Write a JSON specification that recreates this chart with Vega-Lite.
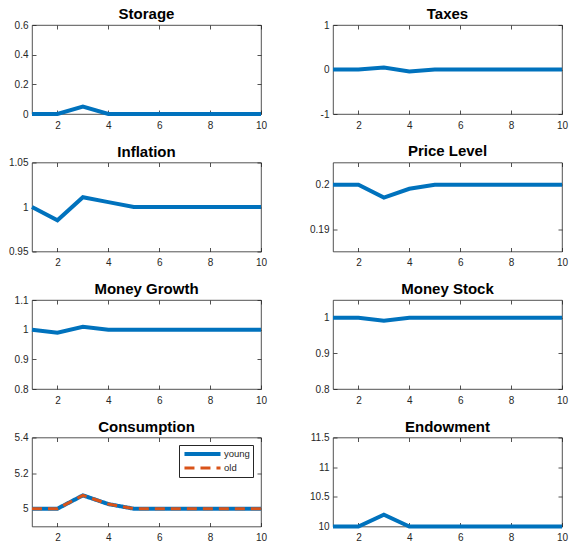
{
  "$schema": "https://vega.github.io/schema/vega-lite/v6.json",
  "padding": {"left": 8, "top": 6, "right": 0, "bottom": 0},
  "background": "white",
  "columns": 2,
  "spacing": {"row": 12.5, "column": 39},
  "datasets": {
    "storage": [{"t":1,"value":0},{"t":2,"value":0},{"t":3,"value":0.05},{"t":4,"value":0},{"t":5,"value":0},{"t":6,"value":0},{"t":7,"value":0},{"t":8,"value":0},{"t":9,"value":0},{"t":10,"value":0}],
    "taxes": [{"t":1,"value":0},{"t":2,"value":0},{"t":3,"value":0.045},{"t":4,"value":-0.045},{"t":5,"value":0},{"t":6,"value":0},{"t":7,"value":0},{"t":8,"value":0},{"t":9,"value":0},{"t":10,"value":0}],
    "inflation": [{"t":1,"value":1},{"t":2,"value":0.985},{"t":3,"value":1.011},{"t":4,"value":1.0055},{"t":5,"value":1},{"t":6,"value":1},{"t":7,"value":1},{"t":8,"value":1},{"t":9,"value":1},{"t":10,"value":1}],
    "price": [{"t":1,"value":0.2},{"t":2,"value":0.2},{"t":3,"value":0.1971},{"t":4,"value":0.1991},{"t":5,"value":0.2},{"t":6,"value":0.2},{"t":7,"value":0.2},{"t":8,"value":0.2},{"t":9,"value":0.2},{"t":10,"value":0.2}],
    "mgrowth": [{"t":1,"value":1},{"t":2,"value":0.99},{"t":3,"value":1.01},{"t":4,"value":1},{"t":5,"value":1},{"t":6,"value":1},{"t":7,"value":1},{"t":8,"value":1},{"t":9,"value":1},{"t":10,"value":1}],
    "mstock": [{"t":1,"value":1},{"t":2,"value":1},{"t":3,"value":0.992},{"t":4,"value":1},{"t":5,"value":1},{"t":6,"value":1},{"t":7,"value":1},{"t":8,"value":1},{"t":9,"value":1},{"t":10,"value":1}],
    "consumption": [
      {"t":1,"value":5,"group":"young"},{"t":2,"value":5,"group":"young"},{"t":3,"value":5.075,"group":"young"},{"t":4,"value":5.026,"group":"young"},{"t":5,"value":5,"group":"young"},{"t":6,"value":5,"group":"young"},{"t":7,"value":5,"group":"young"},{"t":8,"value":5,"group":"young"},{"t":9,"value":5,"group":"young"},{"t":10,"value":5,"group":"young"},
      {"t":1,"value":5,"group":"old"},{"t":2,"value":5,"group":"old"},{"t":3,"value":5.075,"group":"old"},{"t":4,"value":5.026,"group":"old"},{"t":5,"value":5,"group":"old"},{"t":6,"value":5,"group":"old"},{"t":7,"value":5,"group":"old"},{"t":8,"value":5,"group":"old"},{"t":9,"value":5,"group":"old"},{"t":10,"value":5,"group":"old"}
    ],
    "endowment": [{"t":1,"value":10},{"t":2,"value":10},{"t":3,"value":10.2},{"t":4,"value":10},{"t":5,"value":10},{"t":6,"value":10},{"t":7,"value":10},{"t":8,"value":10},{"t":9,"value":10},{"t":10,"value":10}]
  },
  "concat": [
    {
      "title": "Storage", "width": 229, "height": 89,
      "data": {"name": "storage"},
      "layer": [
        {"mark": {"type": "line", "color": "#0072BD", "strokeWidth": 4},
         "encoding": {
           "x": {"field": "t", "type": "quantitative", "title": null, "scale": {"domain": [1, 10], "nice": false}, "axis": {"values": [2,4,6,8,10], "labelPadding": 10}},
           "y": {"field": "value", "type": "quantitative", "title": null, "scale": {"domain": [0, 0.6], "nice": false, "zero": false}, "axis": {"values": [0,0.2,0.4,0.6], "labelExpr": "'' + datum.value"}}}},
        {"mark": {"type": "line", "opacity": 0},
         "encoding": {
           "x": {"field": "t", "type": "quantitative", "title": null, "scale": {"domain": [1, 10], "nice": false}, "axis": {"orient": "top", "values": [2,4,6,8,10], "labels": false}},
           "y": {"field": "value", "type": "quantitative", "title": null, "scale": {"domain": [0, 0.6], "nice": false, "zero": false}, "axis": {"orient": "right", "values": [0,0.2,0.4,0.6], "labels": false}}}}
      ],
      "resolve": {"axis": {"x": "independent", "y": "independent"}}
    },
    {
      "title": "Taxes", "width": 229, "height": 89,
      "data": {"name": "taxes"},
      "layer": [
        {"mark": {"type": "line", "color": "#0072BD", "strokeWidth": 4},
         "encoding": {
           "x": {"field": "t", "type": "quantitative", "title": null, "scale": {"domain": [1, 10], "nice": false}, "axis": {"values": [2,4,6,8,10], "labelPadding": 10}},
           "y": {"field": "value", "type": "quantitative", "title": null, "scale": {"domain": [-1, 1], "nice": false, "zero": false}, "axis": {"values": [-1,0,1], "labelExpr": "'' + datum.value"}}}},
        {"mark": {"type": "line", "opacity": 0},
         "encoding": {
           "x": {"field": "t", "type": "quantitative", "title": null, "scale": {"domain": [1, 10], "nice": false}, "axis": {"orient": "top", "values": [2,4,6,8,10], "labels": false}},
           "y": {"field": "value", "type": "quantitative", "title": null, "scale": {"domain": [-1, 1], "nice": false, "zero": false}, "axis": {"orient": "right", "values": [-1,0,1], "labels": false}}}}
      ],
      "resolve": {"axis": {"x": "independent", "y": "independent"}}
    },
    {
      "title": "Inflation", "width": 229, "height": 89,
      "data": {"name": "inflation"},
      "layer": [
        {"mark": {"type": "line", "color": "#0072BD", "strokeWidth": 4},
         "encoding": {
           "x": {"field": "t", "type": "quantitative", "title": null, "scale": {"domain": [1, 10], "nice": false}, "axis": {"values": [2,4,6,8,10], "labelPadding": 10}},
           "y": {"field": "value", "type": "quantitative", "title": null, "scale": {"domain": [0.95, 1.05], "nice": false, "zero": false}, "axis": {"values": [0.95,1,1.05], "labelExpr": "'' + datum.value"}}}},
        {"mark": {"type": "line", "opacity": 0},
         "encoding": {
           "x": {"field": "t", "type": "quantitative", "title": null, "scale": {"domain": [1, 10], "nice": false}, "axis": {"orient": "top", "values": [2,4,6,8,10], "labels": false}},
           "y": {"field": "value", "type": "quantitative", "title": null, "scale": {"domain": [0.95, 1.05], "nice": false, "zero": false}, "axis": {"orient": "right", "values": [0.95,1,1.05], "labels": false}}}}
      ],
      "resolve": {"axis": {"x": "independent", "y": "independent"}}
    },
    {
      "title": {"text": "Price Level", "dy": -5}, "width": 229, "height": 89,
      "data": {"name": "price"},
      "layer": [
        {"mark": {"type": "line", "color": "#0072BD", "strokeWidth": 4},
         "encoding": {
           "x": {"field": "t", "type": "quantitative", "title": null, "scale": {"domain": [1, 10], "nice": false}, "axis": {"values": [2,4,6,8,10], "labelPadding": 10}},
           "y": {"field": "value", "type": "quantitative", "title": null, "scale": {"domain": [0.185, 0.205], "nice": false, "zero": false}, "axis": {"values": [0.19,0.2], "labelExpr": "'' + datum.value"}}}},
        {"mark": {"type": "line", "opacity": 0},
         "encoding": {
           "x": {"field": "t", "type": "quantitative", "title": null, "scale": {"domain": [1, 10], "nice": false}, "axis": {"orient": "top", "values": [2,4,6,8,10], "labels": false}},
           "y": {"field": "value", "type": "quantitative", "title": null, "scale": {"domain": [0.185, 0.205], "nice": false, "zero": false}, "axis": {"orient": "right", "values": [0.19,0.2], "labels": false}}}}
      ],
      "resolve": {"axis": {"x": "independent", "y": "independent"}}
    },
    {
      "title": "Money Growth", "width": 229, "height": 89,
      "data": {"name": "mgrowth"},
      "layer": [
        {"mark": {"type": "line", "color": "#0072BD", "strokeWidth": 4},
         "encoding": {
           "x": {"field": "t", "type": "quantitative", "title": null, "scale": {"domain": [1, 10], "nice": false}, "axis": {"values": [2,4,6,8,10], "labelPadding": 10}},
           "y": {"field": "value", "type": "quantitative", "title": null, "scale": {"domain": [0.8, 1.1], "nice": false, "zero": false}, "axis": {"values": [0.8,0.9,1,1.1], "labelExpr": "'' + datum.value"}}}},
        {"mark": {"type": "line", "opacity": 0},
         "encoding": {
           "x": {"field": "t", "type": "quantitative", "title": null, "scale": {"domain": [1, 10], "nice": false}, "axis": {"orient": "top", "values": [2,4,6,8,10], "labels": false}},
           "y": {"field": "value", "type": "quantitative", "title": null, "scale": {"domain": [0.8, 1.1], "nice": false, "zero": false}, "axis": {"orient": "right", "values": [0.8,0.9,1,1.1], "labels": false}}}}
      ],
      "resolve": {"axis": {"x": "independent", "y": "independent"}}
    },
    {
      "title": {"text": "Money Stock", "dy": -5}, "width": 229, "height": 89,
      "data": {"name": "mstock"},
      "layer": [
        {"mark": {"type": "line", "color": "#0072BD", "strokeWidth": 4},
         "encoding": {
           "x": {"field": "t", "type": "quantitative", "title": null, "scale": {"domain": [1, 10], "nice": false}, "axis": {"values": [2,4,6,8,10], "labelPadding": 10}},
           "y": {"field": "value", "type": "quantitative", "title": null, "scale": {"domain": [0.8, 1.05], "nice": false, "zero": false}, "axis": {"values": [0.8,0.9,1], "labelExpr": "'' + datum.value"}}}},
        {"mark": {"type": "line", "opacity": 0},
         "encoding": {
           "x": {"field": "t", "type": "quantitative", "title": null, "scale": {"domain": [1, 10], "nice": false}, "axis": {"orient": "top", "values": [2,4,6,8,10], "labels": false}},
           "y": {"field": "value", "type": "quantitative", "title": null, "scale": {"domain": [0.8, 1.05], "nice": false, "zero": false}, "axis": {"orient": "right", "values": [0.8,0.9,1], "labels": false}}}}
      ],
      "resolve": {"axis": {"x": "independent", "y": "independent"}}
    },
    {
      "title": "Consumption", "width": 229, "height": 89,
      "data": {"name": "consumption"},
      "layer": [
        {"mark": {"type": "line"},
         "encoding": {
           "x": {"field": "t", "type": "quantitative", "title": null, "scale": {"domain": [1, 10], "nice": false}, "axis": {"values": [2,4,6,8,10], "labelPadding": 10}},
           "y": {"field": "value", "type": "quantitative", "title": null, "scale": {"domain": [4.9, 5.4], "nice": false, "zero": false}, "axis": {"values": [5,5.2,5.4], "labelExpr": "'' + datum.value"}},
           "color": {"field": "group", "type": "nominal", "title": null, "sort": ["young", "old"], "scale": {"domain": ["young", "old"], "range": ["#0072BD", "#D95319"]},
             "legend": {"orient": "none", "legendX": 147, "legendY": 420, "symbolType": "stroke", "symbolSize": 1300, "symbolStrokeWidth": 4, "clipHeight": 12, "labelFontSize": 9.5, "labelColor": "#262626", "rowPadding": 2, "padding": 3, "strokeColor": "#262626", "fillColor": "white", "labelOffset": 1}},
           "strokeDash": {"field": "group", "type": "nominal", "title": null, "sort": ["young", "old"], "scale": {"domain": ["young", "old"], "range": [[1, 0], [10, 6]]}},
           "strokeWidth": {"field": "group", "type": "nominal", "legend": null, "scale": {"domain": ["young", "old"], "range": [4, 3]}},
           "order": {"field": "group", "type": "nominal", "sort": "descending"}}},
        {"mark": {"type": "line", "opacity": 0},
         "encoding": {
           "x": {"field": "t", "type": "quantitative", "title": null, "scale": {"domain": [1, 10], "nice": false}, "axis": {"orient": "top", "values": [2,4,6,8,10], "labels": false}},
           "y": {"field": "value", "type": "quantitative", "title": null, "scale": {"domain": [4.9, 5.4], "nice": false, "zero": false}, "axis": {"orient": "right", "values": [5,5.2,5.4], "labels": false}}}}
      ],
      "resolve": {"axis": {"x": "independent", "y": "independent"}}
    },
    {
      "title": "Endowment", "width": 229, "height": 89,
      "data": {"name": "endowment"},
      "layer": [
        {"mark": {"type": "line", "color": "#0072BD", "strokeWidth": 4},
         "encoding": {
           "x": {"field": "t", "type": "quantitative", "title": null, "scale": {"domain": [1, 10], "nice": false}, "axis": {"values": [2,4,6,8,10], "labelPadding": 10}},
           "y": {"field": "value", "type": "quantitative", "title": null, "scale": {"domain": [10, 11.5], "nice": false, "zero": false}, "axis": {"values": [10,10.5,11,11.5], "labelExpr": "'' + datum.value"}}}},
        {"mark": {"type": "line", "opacity": 0},
         "encoding": {
           "x": {"field": "t", "type": "quantitative", "title": null, "scale": {"domain": [1, 10], "nice": false}, "axis": {"orient": "top", "values": [2,4,6,8,10], "labels": false}},
           "y": {"field": "value", "type": "quantitative", "title": null, "scale": {"domain": [10, 11.5], "nice": false, "zero": false}, "axis": {"orient": "right", "values": [10,10.5,11,11.5], "labels": false}}}}
      ],
      "resolve": {"axis": {"x": "independent", "y": "independent"}}
    }
  ],
  "config": {
    "font": "Liberation Sans",
    "view": {"stroke": "#262626", "strokeWidth": 0.8},
    "axis": {"grid": false, "domain": false, "tickSize": -4, "tickColor": "#262626", "tickWidth": 0.8, "labelPadding": 8, "labelFontSize": 10, "labelColor": "#262626", "labelFlush": false, "labelOverlap": false},
    "title": {"fontSize": 15, "fontWeight": "bold", "color": "#000000", "offset": -2},
    "line": {"strokeCap": "butt"}
  }
}
